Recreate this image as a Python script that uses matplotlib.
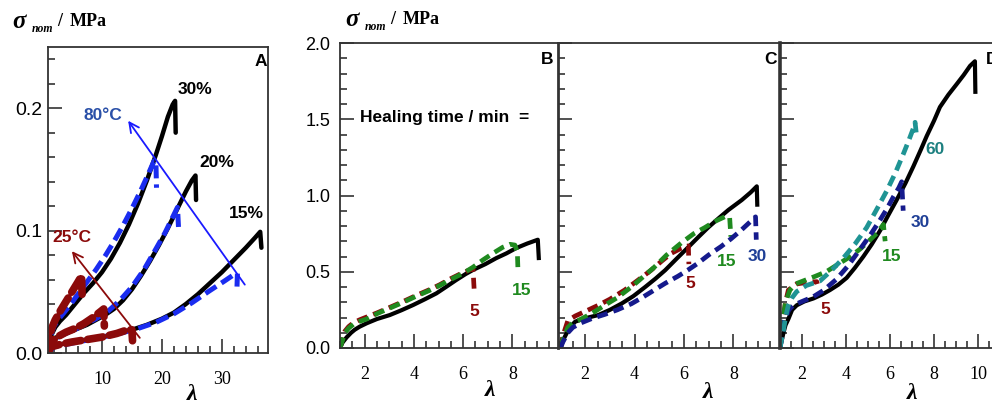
import matplotlib
matplotlib.use("Agg")
import matplotlib.pyplot as plt
from matplotlib.ticker import MultipleLocator

W, H = 992, 403
SANS = "Liberation Sans"
SERIF = "Liberation Serif"

# ---- panel A : three gels (15, 20, 30 %), virgin and healed at 80 C / 25 C
a30_lam = [1.0, 1.2, 1.6, 2.2, 3.0, 4.0, 5.5, 7.0, 8.5, 10.0, 11.5, 13.0, 14.5, 16.0, 17.5, 19.0, 20.0, 21.0, 21.8, 22.2, 22.3]
a30_sig = [0.0, 0.008, 0.015, 0.021, 0.026, 0.031, 0.040, 0.049, 0.057, 0.066, 0.077, 0.090, 0.105, 0.122, 0.141, 0.162, 0.177, 0.193, 0.203, 0.206, 0.180]
a30_80_lam = [1.0, 1.3, 2.0, 3.0, 4.5, 6.0, 7.5, 9.0, 10.5, 12.0, 13.5, 15.0, 16.5, 17.8, 18.7, 19.0, 19.1]
a30_80_sig = [0.0, 0.012, 0.022, 0.029, 0.038, 0.048, 0.058, 0.068, 0.079, 0.091, 0.104, 0.118, 0.133, 0.147, 0.157, 0.157, 0.135]
a30_25_lam = [1.0, 1.2, 1.6, 2.2, 3.0, 4.0, 5.0, 6.0, 6.6, 6.7]
a30_25_sig = [0.0, 0.012, 0.020, 0.027, 0.034, 0.042, 0.050, 0.058, 0.063, 0.045]

a20_lam = [1.0, 1.3, 2.0, 3.0, 4.5, 6.0, 7.5, 9.0, 10.5, 12.0, 13.5, 15.0, 16.5, 18.0, 19.5, 21.0, 22.5, 24.0, 25.0, 25.6, 25.7]
a20_sig = [0.0, 0.008, 0.012, 0.014, 0.017, 0.020, 0.023, 0.027, 0.031, 0.036, 0.043, 0.052, 0.063, 0.075, 0.088, 0.102, 0.117, 0.132, 0.141, 0.145, 0.125]
a20_80_lam = [1.0, 1.5, 3.0, 5.0, 7.0, 9.0, 11.0, 13.0, 15.0, 17.0, 19.0, 20.5, 21.8, 22.6, 22.8]
a20_80_sig = [0.0, 0.009, 0.014, 0.018, 0.023, 0.028, 0.034, 0.043, 0.054, 0.068, 0.085, 0.098, 0.111, 0.119, 0.100]
a20_25_lam = [1.0, 1.4, 2.5, 4.0, 5.5, 7.0, 8.5, 9.8, 10.3, 10.4]
a20_25_sig = [0.0, 0.008, 0.013, 0.017, 0.020, 0.024, 0.029, 0.034, 0.036, 0.022]

a15_lam = [1.0, 1.5, 3.0, 5.0, 7.5, 10.0, 12.5, 15.0, 17.5, 20.0, 22.0, 24.0, 26.0, 28.0, 30.0, 32.0, 34.0, 35.5, 36.4, 36.6]
a15_sig = [0.0, 0.005, 0.007, 0.009, 0.011, 0.013, 0.016, 0.019, 0.023, 0.028, 0.033, 0.040, 0.048, 0.057, 0.066, 0.076, 0.086, 0.094, 0.099, 0.086]
a15_80_lam = [1.0, 2.0, 4.0, 7.0, 10.0, 13.0, 16.0, 19.0, 22.0, 25.0, 28.0, 30.5, 32.0, 32.6, 32.5]
a15_80_sig = [0.0, 0.005, 0.007, 0.010, 0.013, 0.016, 0.020, 0.025, 0.032, 0.041, 0.051, 0.059, 0.064, 0.065, 0.050]
a15_25_lam = [1.0, 1.5, 3.0, 5.0, 7.5, 10.0, 12.5, 14.3, 15.0, 15.1]
a15_25_sig = [0.0, 0.005, 0.007, 0.009, 0.011, 0.013, 0.016, 0.019, 0.019, 0.010]

# ---- panel B : healing time 5, 15 min
b0_lam = [1.0, 1.1, 1.27, 1.45, 1.6, 1.8, 2.08, 2.5, 3.02, 3.5, 3.97, 4.45, 4.91, 5.3, 5.72, 6.1, 6.4, 6.9, 7.34, 7.75, 8.15, 8.6, 9.03, 9.07]
b0_sig = [0.0, 0.035, 0.07, 0.1, 0.12, 0.14, 0.162, 0.19, 0.216, 0.248, 0.282, 0.32, 0.358, 0.4, 0.446, 0.485, 0.512, 0.55, 0.589, 0.62, 0.655, 0.685, 0.71, 0.59]
b5_lam = [1.0, 1.1, 1.2, 1.35, 1.54, 1.8, 2.5, 3.0, 3.5, 4.1, 4.6, 5.05, 5.5, 6.0, 6.4, 6.45]
b5_sig = [0.0, 0.06, 0.11, 0.14, 0.165, 0.185, 0.23, 0.265, 0.3, 0.345, 0.38, 0.415, 0.455, 0.495, 0.52, 0.37]
b15_lam = [1.0, 1.1, 1.2, 1.35, 1.54, 1.8, 2.08, 2.5, 3.0, 3.5, 4.1, 4.6, 5.05, 5.5, 6.0, 6.4, 6.8, 7.2, 7.6, 7.9, 8.1, 8.2, 8.22]
b15_sig = [0.0, 0.05, 0.1, 0.13, 0.155, 0.175, 0.19, 0.225, 0.26, 0.295, 0.34, 0.375, 0.41, 0.45, 0.49, 0.53, 0.577, 0.62, 0.66, 0.68, 0.675, 0.63, 0.53]

# ---- panel C : healing time 5, 15, 30 min
c0_lam = [1.0, 1.1, 1.26, 1.4, 1.6, 2.0, 2.53, 3.0, 3.48, 3.95, 4.43, 4.85, 5.24, 5.7, 6.18, 6.6, 6.98, 7.4, 7.8, 8.34, 8.7, 8.95, 8.97]
c0_sig = [0.0, 0.05, 0.1, 0.14, 0.173, 0.195, 0.216, 0.25, 0.292, 0.34, 0.4, 0.455, 0.51, 0.585, 0.662, 0.73, 0.79, 0.85, 0.905, 0.97, 1.02, 1.06, 0.94]
c5_lam = [1.0, 1.1, 1.3, 1.6, 2.0, 2.53, 3.0, 3.6, 4.1, 4.67, 5.1, 5.48, 5.9, 6.18, 6.2]
c5_sig = [0.0, 0.08, 0.18, 0.21, 0.24, 0.28, 0.32, 0.38, 0.44, 0.51, 0.57, 0.62, 0.655, 0.67, 0.55]
c15_lam = [1.0, 1.1, 1.3, 1.5, 1.84, 2.3, 2.79, 3.3, 3.87, 4.3, 4.8, 5.3, 5.9, 6.4, 6.85, 7.25, 7.65, 7.85, 7.9]
c15_sig = [0.0, 0.06, 0.135, 0.165, 0.19, 0.23, 0.28, 0.33, 0.4, 0.46, 0.53, 0.61, 0.69, 0.75, 0.79, 0.83, 0.86, 0.86, 0.73]
c30_lam = [1.0, 1.1, 1.3, 1.5, 1.84, 2.3, 2.79, 3.3, 3.87, 4.3, 4.8, 5.25, 5.75, 6.15, 6.56, 7.0, 7.5, 7.9, 8.3, 8.6, 8.9, 8.93]
c30_sig = [0.0, 0.04, 0.1, 0.135, 0.165, 0.195, 0.22, 0.25, 0.29, 0.33, 0.38, 0.425, 0.47, 0.51, 0.555, 0.61, 0.665, 0.715, 0.77, 0.815, 0.86, 0.71]

# ---- panel D : healing time 5, 15, 30, 60 min
d0_lam = [1.0, 1.08, 1.15, 1.25, 1.38, 1.55, 1.76, 2.1, 2.52, 2.9, 3.27, 3.65, 4.03, 4.4, 4.79, 5.17, 5.55, 5.9, 6.3, 6.7, 7.06, 7.4, 7.67, 8.0, 8.27, 8.65, 9.03, 9.35, 9.64, 9.86, 9.88]
d0_sig = [0.0, 0.05, 0.095, 0.15, 0.19, 0.25, 0.28, 0.305, 0.325, 0.35, 0.38, 0.415, 0.46, 0.525, 0.6, 0.68, 0.77, 0.865, 0.97, 1.08, 1.19, 1.3, 1.39, 1.49, 1.58, 1.66, 1.73, 1.79, 1.85, 1.88, 1.68]
d5_lam = [1.0, 1.1, 1.25, 1.38, 1.76, 2.2, 2.67, 2.7]
d5_sig = [0.0, 0.15, 0.3, 0.38, 0.42, 0.43, 0.435, 0.42]
d15_lam = [1.0, 1.1, 1.25, 1.45, 1.7, 2.06, 2.6, 3.1, 3.65, 4.2, 4.65, 5.1, 5.45, 5.7, 5.78]
d15_sig = [0.0, 0.15, 0.3, 0.38, 0.42, 0.44, 0.47, 0.5, 0.55, 0.6, 0.65, 0.71, 0.76, 0.81, 0.70]
d30_lam = [1.0, 1.1, 1.2, 1.4, 1.6, 2.0, 2.5, 3.0, 3.56, 4.1, 4.6, 5.1, 5.55, 5.85, 6.15, 6.4, 6.53, 6.6]
d30_sig = [0.0, 0.08, 0.18, 0.25, 0.28, 0.305, 0.335, 0.38, 0.45, 0.54, 0.64, 0.74, 0.84, 0.91, 0.99, 1.05, 1.09, 0.9]
d60_lam = [1.0, 1.08, 1.15, 1.25, 1.38, 1.55, 1.76, 2.2, 2.82, 3.35, 3.88, 4.4, 4.94, 5.4, 5.85, 6.25, 6.6, 6.85, 7.06, 7.14, 7.2]
d60_sig = [0.0, 0.06, 0.11, 0.2, 0.28, 0.33, 0.37, 0.41, 0.44, 0.51, 0.59, 0.68, 0.79, 0.91, 1.03, 1.15, 1.27, 1.36, 1.44, 1.48, 1.4]

RED = "#8b0a0a"
GREEN = "#1f8a1f"
NAVY = "#151a8c"
TEAL = "#1f9494"
BLUE = "#1a2cf0"


def px_axes(left, right, top, bottom):
    return fig.add_axes([left / W, 1 - bottom / H, (right - left) / W, (bottom - top) / H])


def style(ax, xmaj, xmin, ymaj, ymin, labelleft=True, ypad=4, ysize=13):
    ax.xaxis.set_major_locator(MultipleLocator(xmaj))
    ax.xaxis.set_minor_locator(MultipleLocator(xmin))
    ax.yaxis.set_major_locator(MultipleLocator(ymaj))
    ax.yaxis.set_minor_locator(MultipleLocator(ymin))
    ax.tick_params(which="both", direction="in", top=False, right=False, color="#333333", width=1.2)
    ax.tick_params(which="major", length=10)
    ax.tick_params(which="minor", length=5)
    ax.tick_params(axis="x", pad=13, labelsize=13)
    ax.tick_params(axis="y", pad=ypad, labelsize=ysize, labelleft=labelleft)
    for t in ax.get_xticklabels():
        t.set_fontfamily(SERIF)
    for t in ax.get_yticklabels():
        t.set_fontfamily(SANS)
    for s in ax.spines.values():
        s.set_color("#333333")
        s.set_linewidth(1.3)


def lam_label(ax, fx, fy):
    ax.set_xlabel("λ", fontfamily=SERIF, fontsize=17, fontweight="bold", fontstyle="italic", va="center")
    ax.xaxis.set_label_coords(fx, fy)


def sigma_label(x0, y0):
    fig.text(x0 / W, 1 - y0 / H, "σ", fontfamily=SERIF, fontsize=18, fontweight="bold",
             fontstyle="italic", va="center")
    fig.text((x0 + 20) / W, 1 - (y0 + 7) / H, "nom", fontfamily=SERIF, fontsize=8.5, fontweight="bold",
             fontstyle="italic", va="center")
    fig.text((x0 + 45) / W, 1 - y0 / H, "/", fontfamily=SERIF, fontsize=13, fontweight="bold", va="center")
    fig.text((x0 + 58) / W, 1 - y0 / H, "MPa", fontfamily=SERIF, fontsize=13, fontweight="bold", va="center")


fig = plt.figure(figsize=(W / 100, H / 100), dpi=100)

# ---------- A
axA = px_axes(48, 268, 47, 353)
dashA = (2.6, 1.2)
for lam, sig in [(a30_lam, a30_sig), (a20_lam, a20_sig), (a15_lam, a15_sig)]:
    axA.plot(lam, sig, color="black", lw=3.2, solid_capstyle="round")
for lam, sig in [(a30_80_lam, a30_80_sig), (a20_80_lam, a20_80_sig), (a15_80_lam, a15_80_sig)]:
    axA.plot(lam, sig, color=BLUE, lw=3.6, dashes=dashA)
for lam, sig in [(a30_25_lam, a30_25_sig), (a20_25_lam, a20_25_sig), (a15_25_lam, a15_25_sig)]:
    axA.plot(lam, sig, color=RED, lw=5.5, dashes=(2.0, 0.9), dash_capstyle="round")
axA.annotate("", xy=(14.1, 0.1916), xytext=(34.1, 0.054),
             arrowprops=dict(arrowstyle="->,head_length=0.7,head_width=0.35", color="#1a1aff", lw=1.3))
axA.annotate("", xy=(4.7, 0.085), xytext=(16.6, 0.0106),
             arrowprops=dict(arrowstyle="->,head_length=0.7,head_width=0.35", color=RED, lw=1.3))
txt = dict(fontfamily=SANS, fontweight="bold", fontsize=12.5, ha="center", va="center")
axA.text(25.5, 0.215, "30%", color="black", **txt)
axA.text(29.1, 0.156, "20%", color="black", **txt)
axA.text(34.1, 0.114, "15%", color="black", **txt)
axA.text(10.2, 0.194, "80°C", color="#2a50a8", **txt)
axA.text(4.9, 0.094, "25°C", color=RED, **txt)
axA.text(36.5, 0.238, "A", color="black", **txt)
axA.set_xlim(1, 37.7)
axA.set_ylim(0, 0.25)
style(axA, 10, 2, 0.1, 0.02, ypad=4, ysize=14)
axA.set_yticks([0.0, 0.1, 0.2])
axA.set_yticklabels(["0.0", "0.1", "0.2"], fontfamily=SANS)
lam_label(axA, 0.655, -0.135)
sigma_label(12, 22)

# ---------- B, C, D
dashB = (2.3, 1.3)
axB = px_axes(340, 558, 43, 348)
axC = px_axes(558, 779, 43, 348)
axD = px_axes(780, 1000, 43, 348)

axB.plot(b0_lam, b0_sig, color="black", lw=3.0)
axB.plot(b5_lam, b5_sig, color=RED, lw=3.4, dashes=dashB)
axB.plot(b15_lam, b15_sig, color=GREEN, lw=3.4, dashes=dashB)

axC.plot(c0_lam, c0_sig, color="black", lw=3.0)
axC.plot(c5_lam, c5_sig, color=RED, lw=3.4, dashes=dashB)
axC.plot(c15_lam, c15_sig, color=GREEN, lw=3.4, dashes=dashB)
axC.plot(c30_lam, c30_sig, color=NAVY, lw=3.4, dashes=dashB)

axD.plot(d0_lam, d0_sig, color="black", lw=3.0)
axD.plot(d5_lam, d5_sig, color=RED, lw=3.4, dashes=dashB)
axD.plot(d15_lam, d15_sig, color=GREEN, lw=3.4, dashes=dashB)
axD.plot(d30_lam, d30_sig, color=NAVY, lw=3.4, dashes=dashB)
axD.plot(d60_lam, d60_sig, color=TEAL, lw=3.4, dashes=dashB)

axB.text(1.8, 1.51, "Healing time / min  =", fontfamily=SANS, fontweight="bold", fontsize=12.5,
         ha="left", va="center")
axB.text(6.47, 0.24, "5", color=RED, **txt)
axB.text(8.37, 0.38, "15", color=GREEN, **txt)
axB.text(9.4, 1.89, "B", color="black", **txt)

axC.text(6.25, 0.42, "5", color=RED, **txt)
axC.text(7.74, 0.57, "15", color=GREEN, **txt)
axC.text(8.95, 0.60, "30", color="#1f3f96", **txt)
axC.text(9.5, 1.89, "C", color="black", **txt)

axD.text(3.05, 0.25, "5", color=RED, **txt)
axD.text(6.08, 0.60, "15", color=GREEN, **txt)
axD.text(7.36, 0.82, "30", color="#1f3f96", **txt)
axD.text(8.05, 1.30, "60", color="#1d8080", **txt)
axD.text(10.35, 1.89, "D", color="black", fontfamily=SANS, fontweight="bold", fontsize=12.5,
         ha="left", va="center")

axB.set_xlim(1.0, 9.85)
axC.set_xlim(0.9, 9.85)
axD.set_xlim(1.0, 11.0)
for ax in (axB, axC, axD):
    ax.set_ylim(0, 2.0)
style(axB, 2, 0.5, 0.5, 0.1, ypad=7)
style(axC, 2, 0.5, 0.5, 0.1, labelleft=False)
style(axD, 2, 0.5, 0.5, 0.1, labelleft=False)
axB.set_yticklabels([f"{v:.1f}" for v in axB.get_yticks()], fontfamily=SANS)
axB.spines["right"].set_visible(False)
axC.spines["left"].set_linewidth(2.0)
axD.spines["left"].set_linewidth(2.6)
axC.spines["right"].set_visible(False)

lam_label(axB, 0.69, -0.14)
lam_label(axC, 0.68, -0.145)
lam_label(axD, 0.6, -0.15)
sigma_label(345, 20)

fig.savefig("out.png", dpi=100)
